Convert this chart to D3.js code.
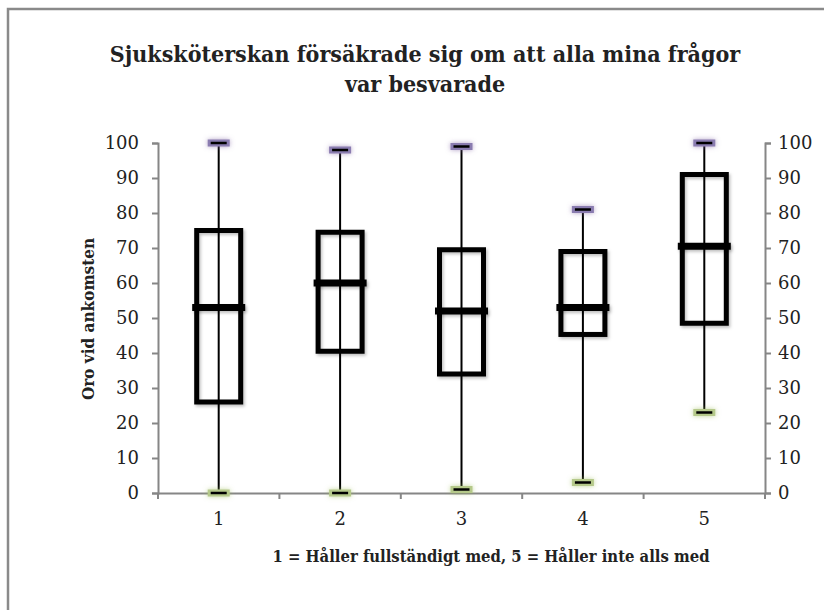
<!DOCTYPE html>
<html>
<head>
<meta charset="utf-8">
<script src="https://cdn.jsdelivr.net/npm/d3@7"></script>
<style>
  body { margin: 0; background: #fff; }
  text { font-family: "DejaVu Serif Condensed", "DejaVu Serif", serif; font-stretch: condensed; fill: #222; }
</style>
</head>
<body>
<svg id="chart" width="824" height="610"></svg>
<script>
// data
var categories = ["1", "2", "3", "4", "5"];
var maxValues = [100, 98, 99, 81, 100];
var q3Values = [75, 74.5, 69.5, 69, 91];
var medianValues = [53, 60, 52, 53, 70.5];
var q1Values = [26, 40.5, 34, 45.3, 48.5];
var minValues = [0, 0, 1, 3, 23];
var yTicks = [0, 10, 20, 30, 40, 50, 60, 70, 80, 90, 100];

var titleLines = ["Sjuksköterskan försäkrade sig om att alla mina frågor", "var besvarade"];
var yTitle = "Oro vid ankomsten";
var xTitle = "1 = Håller fullständigt med, 5 = Håller inte alls med";

var svg = d3.select("#chart"),
    margin = {left: 158, right: 59, top: 143, bottom: 117},
    width = +svg.attr("width") - margin.left - margin.right,
    height = +svg.attr("height") - margin.top - margin.bottom;

// outer frame
svg.append("rect")
    .attr("x", 8).attr("y", 9)
    .attr("width", 830).attr("height", 620)
    .attr("fill", "#fff")
    .attr("stroke", "#8a8a8a")
    .attr("stroke-width", 2.5);

var defs = svg.append("defs");
var shadow = defs.append("filter").attr("id", "shadow")
    .attr("filterUnits", "userSpaceOnUse")
    .attr("x", -100).attr("y", -50).attr("width", 1000).attr("height", 700);
shadow.append("feDropShadow")
    .attr("dx", 1.5).attr("dy", 2).attr("stdDeviation", 1.5)
    .attr("flood-color", "#000").attr("flood-opacity", 0.25);

function glow(id, color) {
  var f = defs.append("filter").attr("id", id)
      .attr("filterUnits", "userSpaceOnUse")
      .attr("x", -100).attr("y", -50).attr("width", 1000).attr("height", 700);
  f.append("feDropShadow")
      .attr("dx", 0).attr("dy", 0).attr("stdDeviation", 2.5)
      .attr("flood-color", color).attr("flood-opacity", 0.6);
}
glow("glowMax", "#8064a2");
glow("glowMin", "#9bbb59");

var x = d3.scaleBand().domain(categories).range([0, width]);
var y = d3.scaleLinear().domain([0, 100]).range([height, 0]);

var g = svg.append("g").attr("transform", "translate(" + margin.left + "," + margin.top + ")");

// axes
var axisColor = "#868686";
var leftAxis = g.append("g")
    .call(d3.axisLeft(y).tickValues(yTicks).tickSize(6).tickPadding(13));
var rightAxis = g.append("g")
    .attr("transform", "translate(" + width + ",0)")
    .call(d3.axisRight(y).tickValues(yTicks).tickSize(6).tickPadding(7));
var bottomAxis = g.append("g")
    .attr("transform", "translate(0," + height + ")")
    .call(d3.axisBottom(x).tickSize(0).tickPadding(19));

// band boundary ticks on x axis
bottomAxis.selectAll(".bound")
    .data(d3.range(categories.length + 1))
    .enter().append("line")
      .attr("class", "bound")
      .attr("x1", function(i) { return i * x.step(); })
      .attr("x2", function(i) { return i * x.step(); })
      .attr("y1", 0).attr("y2", 6)
      .attr("stroke", axisColor).attr("stroke-width", 2);

[leftAxis, rightAxis, bottomAxis].forEach(function(a) {
  a.select(".domain").attr("stroke", axisColor).attr("stroke-width", 2);
  a.selectAll(".tick line").attr("stroke", axisColor).attr("stroke-width", 2);
  a.selectAll("text")
      .style("font-family", "'DejaVu Serif', serif")
      .style("font-stretch", "normal")
      .style("font-size", "18px")
      .attr("fill", "#1a1a1a");
});

var boxes = categories.map(function(c, i) {
  return {cat: c, max: maxValues[i], q3: q3Values[i], med: medianValues[i], q1: q1Values[i], min: minValues[i]};
});

var boxW = 44;
var node = g.selectAll(".box")
  .data(boxes)
  .enter().append("g")
    .attr("class", "box")
    .attr("transform", function(d) { return "translate(" + (x(d.cat) + x.bandwidth() / 2) + ",0)"; });

// whisker
node.append("line")
    .attr("x1", 0).attr("x2", 0)
    .attr("y1", function(d) { return y(d.max); })
    .attr("y2", function(d) { return y(d.min); })
    .attr("stroke", "#000").attr("stroke-width", 2);

// box
node.append("rect")
    .attr("x", -boxW / 2)
    .attr("y", function(d) { return y(d.q3); })
    .attr("width", boxW)
    .attr("height", function(d) { return y(d.q1) - y(d.q3); })
    .attr("fill", "none")
    .attr("stroke", "#000").attr("stroke-width", 5)
    .attr("filter", "url(#shadow)");

// median
node.append("rect")
    .attr("x", -boxW / 2 - 4.5)
    .attr("width", boxW + 9)
    .attr("y", function(d) { return y(d.med) - 3.5; })
    .attr("height", 7)
    .attr("fill", "#000")
    .attr("filter", "url(#shadow)");

// max / min markers
function marker(sel, key, fill, filt) {
  sel.append("rect")
      .attr("x", -11).attr("width", 22)
      .attr("y", function(d) { return y(d[key]) - 3.5; })
      .attr("height", 7)
      .attr("fill", fill)
      .attr("filter", filt);
  sel.append("rect")
      .attr("x", -8).attr("width", 16)
      .attr("y", function(d) { return y(d[key]) - 1.25; })
      .attr("height", 2.5)
      .attr("fill", "#000");
}
marker(node, "max", "#8a7bb0", "url(#glowMax)");
marker(node, "min", "#b5c98a", "url(#glowMin)");

// titles
var title = svg.append("text")
    .attr("text-anchor", "middle")
    .style("font-weight", "bold")
    .style("font-size", "23px");
title.selectAll("tspan")
    .data(titleLines)
    .enter().append("tspan")
      .attr("x", 425)
      .attr("y", function(d, i) { return 62 + i * 30; })
      .text(function(d) { return d; });

svg.append("text")
    .attr("transform", "translate(94," + 319 + ") rotate(-90)")
    .attr("text-anchor", "middle")
    .style("font-weight", "bold")
    .style("font-size", "17px")
    .text(yTitle);

svg.append("text")
    .attr("x", 491)
    .attr("y", 562)
    .attr("text-anchor", "middle")
    .style("font-weight", "bold")
    .style("font-size", "16.5px")
    .text(xTitle);
</script>
</body>
</html>
